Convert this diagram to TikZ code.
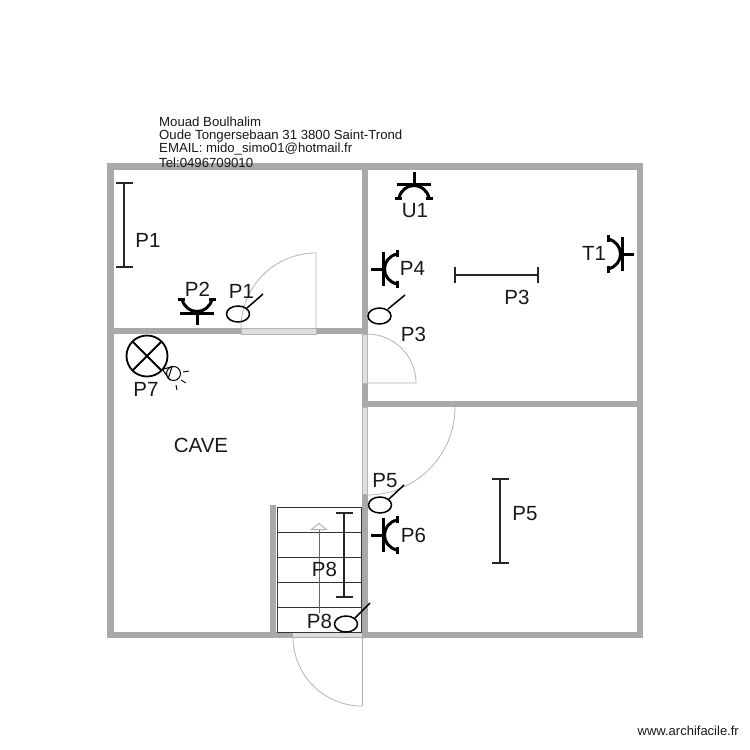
\documentclass[tikz,border=0pt]{standalone}
\usepackage{fontspec}
\setmainfont{Liberation Sans}
\definecolor{wallc}{HTML}{A9A9A9}
\definecolor{openc}{HTML}{DEDEDE}
\definecolor{doorc}{HTML}{B4B4B4}
\tikzset{
  wall/.style={draw=none,fill=wallc},
  opening/.style={draw=doorc,line width=0.6pt,fill=openc},
  doorleaf/.style={draw=doorc,line width=0.8pt},
  sym/.style={draw=black,line width=3pt},
  barline/.style={draw=black!85,line width=2.8pt},
  capline/.style={draw=black!85,line width=1.5pt},
  thin sym/.style={draw=black,line width=1.5pt},
  lab/.style={inner sep=0pt,font=\fontsize{20.5}{20.5}\selectfont,text=black!90},
  head/.style={inner sep=0pt,anchor=west,font=\fontsize{13.2}{13.2}\selectfont,text=black!90},
  tread/.style={draw=black!80,line width=1pt},
  socket/.pic={
    \draw[sym] (0,0)--(0,-12) (-17,0)--(17,0);
    \draw[sym] (-15,14) .. controls (-13,6) and (-7,1.5) .. (0,1.5) .. controls (7,1.5) and (13,6) .. (15,14);
    \draw[sym] (-19,14)--(-12,14) (12,14)--(19,14);
  }
}
\begin{document}
\begin{tikzpicture}[x=1pt,y=-1pt]
\useasboundingbox (0,0) rectangle (750,750);
\fill[white] (0,0) rectangle (750,750);
% walls
\fill[wall] (107,163) rectangle (642.5,170);
\fill[wall] (107,631.5) rectangle (642.5,637.5);
\fill[wall] (107,163) rectangle (114,637.5);
\fill[wall] (636.5,163) rectangle (642.5,637.5);
\fill[wall] (361.5,163) rectangle (367.5,637.5);
\fill[wall] (107,328) rectangle (367,334);
\fill[wall] (367,401) rectangle (642,407);
\fill[wall] (270,505) rectangle (276,637);
% openings
\draw[opening] (241,328.5) rectangle (316,334);
\draw[opening] (362,334) rectangle (367.5,383);
\draw[opening] (362,407) rectangle (367.5,494);
\fill[openc] (293,632) rectangle (362,637);
% door leaves
\draw[doorleaf] (241,328) arc[start angle=180,end angle=270,radius=75] -- (316,328);
\draw[doorleaf] (367,334) arc[start angle=-90,end angle=0,radius=49] -- (367,383);
\draw[doorleaf] (455,407) arc[start angle=0,end angle=90,radius=88];
\draw[doorleaf] (293,637) arc[start angle=180,end angle=90,radius=69];
\draw[doorleaf] (362,637) -- (362,706);
% stairs
\draw[tread,fill=white] (277.5,507) rectangle (361,632);
\draw[tread] (277.5,532) -- (361,532) (277.5,557) -- (361,557) (277.5,582) -- (361,582) (277.5,607) -- (361,607);
\draw[draw=black!60,line width=0.7pt] (319,613) -- (319,530);
\draw[doorc,line width=1pt,fill=white] (311.5,529.5) -- (319,523.5) -- (326.5,529.5) -- cycle;
% bars
\draw[barline] (124,183) -- (124,267);
\draw[capline] (116,183) -- (133,183) (116,267) -- (133,267);
\draw[barline] (455,275) -- (538,275);
\draw[capline] (455,267) -- (455,283) (538,267) -- (538,283);
\draw[barline] (500,479) -- (500,563);
\draw[capline] (492,479) -- (509,479) (492,563) -- (509,563);
\draw[barline] (344,513) -- (344,597);
\draw[capline] (336,513) -- (353,513) (336,597) -- (353,597);
% sockets
\pic at (197,313) [rotate=180] {socket};
\pic at (414,184) {socket};
\pic at (383,269) [rotate=90] {socket};
\pic at (383,535) [rotate=90] {socket};
\pic at (622,254) [rotate=-90] {socket};
% switches
\draw[thin sym] (238,314) ellipse[x radius=11.5,y radius=8];
\draw[thin sym] (247,308) -- (263,294);
\draw[thin sym] (379.5,316) ellipse[x radius=11.5,y radius=8];
\draw[thin sym] (388,309) -- (405,295);
\draw[thin sym] (380,505) ellipse[x radius=11.5,y radius=8];
\draw[thin sym] (389,499) -- (404,485);
\draw[thin sym] (346,624) ellipse[x radius=11.5,y radius=8];
\draw[thin sym] (355,618) -- (370,603);
% lamp
\draw[thin sym,line width=1.8pt] (147,356) circle[radius=20.5];
\draw[thin sym,line width=1.8pt] (132.5,341.5) -- (161.5,370.5) (161.5,341.5) -- (132.5,370.5);
\draw[draw=black,line width=1pt] (173.5,373.5) circle[radius=7] (172,367) -- (168,379);
\draw[draw=black,line width=1pt] (162.5,369.5) -- (172,366.5) (162.5,369.5) -- (170,380);
\draw[draw=black,line width=0.9pt] (183,372) -- (189,371) (181,380) -- (186,383) (176,385) -- (177,390);
% labels
\node[lab] (lP1a) at (148,240) {P1};
\node[lab] (lP2) at (197.5,289) {P2};
\node[lab] (lP1b) at (241.5,291) {P1};
\node[lab] (lU1) at (415,211) {U1};
\node[lab] (lP4) at (412.5,268) {P4};
\node[lab] (lT1) at (594,253) {T1};
\node[lab] (lP3a) at (517,297) {P3};
\node[lab] (lP3b) at (413.5,334) {P3};
\node[lab] (lP7) at (146,389) {P7};
\node[lab] (lcave) at (201,445) {CAVE};
\node[lab] (lP5a) at (385,481) {P5};
\node[lab] (lP5b) at (525,514) {P5};
\node[lab] (lP6) at (413.5,535) {P6};
\node[lab] (lP8a) at (324.5,569) {P8};
\node[lab] (lP8b) at (319.5,621) {P8};
\node[head] (h1) at (159,122) {Mouad Boulhalim};
\node[head] (h2) at (159,136) {Oude Tongersebaan 31 3800 Saint-Trond};
\node[head] (h3) at (159,149.5) {EMAIL: mido\_simo01@hotmail.fr};
\node[head] (h4) at (159,162.5) {Tel:0496709010};
\node[head,anchor=east,font=\fontsize{13}{13}\selectfont] (wm) at (739,731) {www.archifacile.fr};
\end{tikzpicture}
\end{document}
